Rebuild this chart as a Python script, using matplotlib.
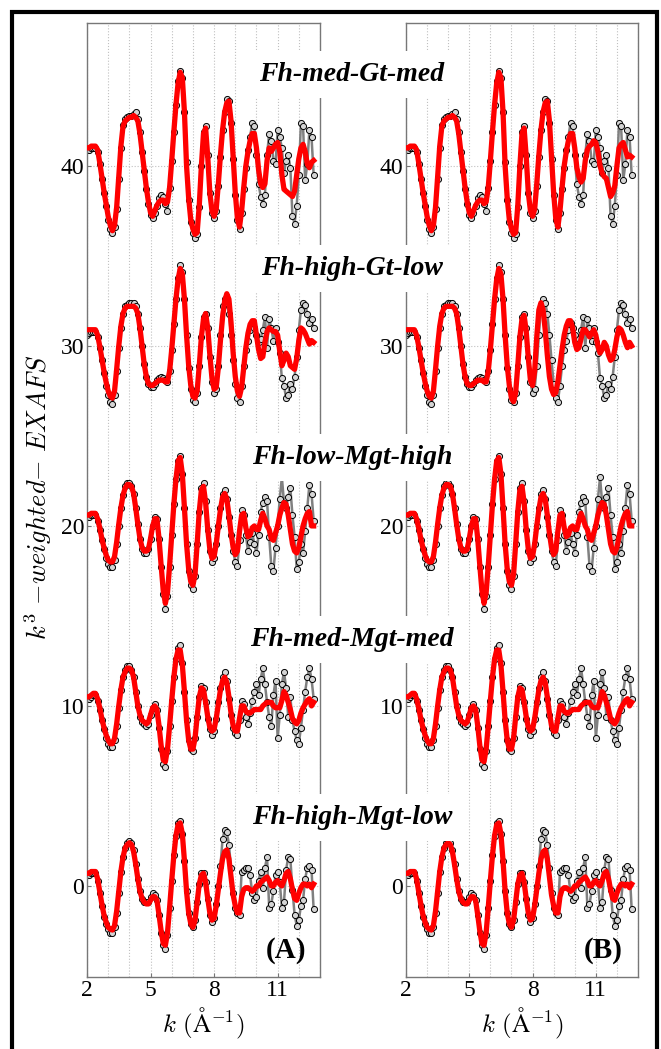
import numpy as np
import matplotlib.pyplot as plt
from matplotlib.patches import Rectangle
from matplotlib.ticker import MultipleLocator

plt.rcParams['font.family'] = ['Liberation Serif', 'DejaVu Serif']
plt.rcParams['mathtext.fontset'] = 'cm'

# k grid (1/Angstrom), step 0.1
k = np.round(np.arange(20, 128) / 10.0, 1)

names = ['Fh-med-Gt-med', 'Fh-high-Gt-low', 'Fh-low-Mgt-high',
         'Fh-med-Mgt-med', 'Fh-high-Mgt-low']

# measured k3-weighted EXAFS (already offset by 40, 30, 20, 10, 0)
data_gt_med = [40.9, 40.9, 41.0, 41.0, 41.0, 40.8, 40.1, 39.3, 38.5, 37.8,
               37.0, 36.5, 36.3, 36.6, 37.6, 39.3, 41.0, 42.3, 42.6, 42.7,
               42.8, 42.8, 42.9, 43.0, 42.6, 41.9, 40.8, 39.7, 38.7, 37.9,
               37.3, 37.1, 37.4, 37.8, 38.2, 38.4, 38.3, 37.9, 37.5, 38.8,
               40.3, 41.9, 43.4, 44.7, 45.3, 44.9, 43.0, 40.2, 38.1, 36.9,
               36.3, 36.0, 36.2, 37.7, 40.0, 41.9, 42.2, 40.6, 38.5, 37.4,
               37.1, 37.5, 38.9, 40.5, 42.0, 43.0, 43.7, 43.6, 42.4, 40.4,
               38.4, 37.0, 36.5, 37.4, 38.7, 39.9, 40.9, 41.6, 42.4, 42.2,
               40.6, 39.0, 38.3, 37.9, 38.4, 40.6, 41.8, 41.4, 40.3, 40.1,
               42.0, 41.6, 41.0, 39.6, 40.3, 40.6, 39.9, 37.2, 36.8, 37.8,
               39.5, 42.4, 42.2, 39.2, 40.1, 42.0, 41.6, 39.5]
data_gt_low = [30.6, 30.7, 30.8, 30.8, 30.8, 30.5, 29.9, 29.2, 28.5, 27.8,
               27.3, 26.9, 26.8, 27.3, 28.6, 29.9, 31.0, 31.8, 32.2, 32.3,
               32.4, 32.4, 32.4, 32.2, 31.8, 31.0, 30.0, 29.0, 28.3, 27.9,
               27.7, 27.7, 27.9, 28.1, 28.2, 28.3, 28.2, 28.1, 28.0, 28.6,
               29.8, 31.2, 32.6, 33.8, 34.5, 34.1, 32.6, 30.6, 28.8, 27.6,
               27.0, 26.9, 27.4, 28.9, 30.5, 31.6, 31.8, 31.0, 29.4, 28.0,
               27.4, 27.6, 28.9, 30.6, 32.2, 32.6, 32.4, 31.8, 30.6, 29.2,
               27.9, 27.1, 26.9, 27.8, 28.9, 29.8, 30.3, 30.9, 31.3, 31.0,
               30.6, 30.2, 30.4, 30.9, 31.6, 29.9, 31.5, 31.0, 30.3, 31.0,
               30.2, 29.6, 28.2, 27.8, 27.1, 27.3, 27.9, 27.6, 28.3, 29.4,
               30.9, 32.0, 32.4, 32.3, 31.8, 31.3, 31.5, 31.0]
data_mgt_high = [20.5, 20.5, 20.6, 20.6, 20.6, 20.3, 19.8, 19.2, 18.7, 18.2,
                 17.9, 17.7, 17.7, 18.1, 19.0, 20.0, 21.0, 21.7, 22.2, 22.4,
                 22.4, 22.2, 21.8, 21.0, 20.1, 19.3, 18.7, 18.5, 18.5, 18.7,
                 19.3, 20.0, 20.5, 20.4, 19.3, 17.7, 16.2, 15.4, 16.1, 17.7,
                 19.5, 21.2, 22.6, 23.6, 23.9, 22.9, 21.0, 19.0, 17.5, 16.7,
                 16.5, 17.2, 19.0, 20.8, 22.1, 22.4, 21.4, 19.8, 18.6, 18.0,
                 18.2, 19.0, 20.0, 21.0, 21.8, 22.0, 21.5, 20.5, 19.5, 18.6,
                 18.0, 17.8, 19.2, 20.9, 20.6, 19.5, 18.6, 19.1, 19.6, 19.0,
                 18.5, 19.5, 20.8, 21.3, 21.6, 21.4, 19.4, 17.8, 17.5, 18.8,
                 20.0, 21.5, 22.7, 21.3, 21.0, 21.6, 22.1, 20.6, 19.4, 17.6,
                 18.0, 19.0, 18.5, 19.7, 21.0, 22.3, 21.8, 20.3]
data_mgt_med = [10.4, 10.4, 10.5, 10.6, 10.6, 10.3, 9.8, 9.2, 8.7, 8.2,
                7.9, 7.7, 7.7, 8.1, 8.9, 9.9, 10.9, 11.6, 12.0, 12.2,
                12.2, 12.0, 11.6, 10.8, 10.0, 9.4, 9.1, 9.0, 8.9, 9.0,
                9.5, 9.9, 10.1, 9.8, 8.8, 7.6, 6.8, 6.6, 7.5, 8.9,
                10.3, 11.6, 12.6, 13.2, 13.4, 12.4, 10.8, 9.2, 8.1, 7.6,
                7.5, 8.2, 9.4, 10.5, 11.1, 11.0, 10.2, 9.3, 8.7, 8.4,
                8.6, 9.3, 10.2, 11.0, 11.6, 11.9, 11.4, 10.4, 9.5, 8.8,
                8.5, 8.4, 9.2, 10.3, 10.1, 9.4, 9.0, 9.6, 10.3, 10.8,
                11.2, 10.6, 11.5, 12.1, 11.2, 10.2, 9.4, 8.9, 10.6, 11.4,
                8.2, 9.5, 11.2, 11.9, 11.0, 9.4, 10.5, 9.2, 8.6, 8.1,
                7.9, 8.8, 9.8, 10.8, 11.6, 12.1, 11.5, 10.4]
data_mgt_low = [0.6, 0.6, 0.7, 0.7, 0.7, 0.3, -0.4, -1.1, -1.7, -2.1,
                -2.4, -2.6, -2.6, -2.3, -1.5, -0.4, 0.8, 1.6, 2.1, 2.4,
                2.5, 2.4, 2.0, 1.2, 0.4, -0.3, -0.7, -0.9, -0.9, -0.9,
                -0.6, -0.4, -0.5, -0.8, -1.6, -2.6, -3.3, -3.5, -2.7, -1.2,
                0.3, 1.7, 2.8, 3.5, 3.6, 2.9, 1.4, -0.3, -1.5, -2.1,
                -2.3, -1.9, -0.9, 0.1, 0.7, 0.7, 0.2, -0.7, -1.6, -2.0,
                -1.8, -1.0, 0.0, 1.1, 2.6, 3.1, 3.0, 2.3, 1.0, -0.4,
                -1.2, -1.5, -1.6, 0.8, 0.9, 1.0, 1.0, 0.6, -0.4, -0.8,
                -0.6, 0.3, 0.8, -0.1, 1.0, 1.6, -1.2, -1.0, -0.3, 0.6,
                0.8, 0.2, -1.2, -0.9, 0.9, 1.6, 1.5, -0.2, -1.6, -2.2,
                -1.9, -1.1, -0.8, 0.4, 1.0, 1.1, 0.9, -1.3]

# fits, panel (A)
fitA_gt_med = [41.0, 41.0, 41.1, 41.1, 41.1, 40.9, 40.2, 39.4, 38.6, 37.9,
               37.2, 36.7, 36.4, 36.7, 37.7, 39.4, 41.1, 42.2, 42.5, 42.6,
               42.7, 42.7, 42.8, 42.7, 42.5, 41.8, 40.8, 39.8, 38.8, 38.0,
               37.4, 37.2, 37.5, 37.8, 38.0, 38.1, 38.1, 37.9, 38.0, 38.8,
               40.3, 41.9, 43.4, 44.6, 45.2, 44.9, 43.0, 40.0, 38.2, 37.0,
               36.5, 36.2, 36.3, 37.8, 40.0, 41.8, 42.1, 40.5, 38.5, 37.5,
               37.2, 37.6, 39.0, 40.6, 42.0, 43.0, 43.5, 43.6, 42.5, 40.5,
               38.5, 37.1, 36.6, 37.5, 38.8, 40.0, 40.8, 41.4, 41.8, 41.8,
               41.0, 39.8, 39.0, 38.8, 39.0, 40.3, 41.0, 40.8, 41.0, 41.2,
               41.3, 40.8, 39.5, 38.7, 38.6, 38.5, 38.4, 38.3, 38.6, 39.5,
               40.4, 41.0, 41.2, 40.8, 40.1, 39.9, 40.2, 40.3]
fitA_gt_low = [30.9, 30.9, 30.9, 30.9, 30.9, 30.6, 30.0, 29.3, 28.6, 28.0,
               27.5, 27.2, 27.1, 27.5, 28.7, 30.0, 31.1, 31.8, 32.1, 32.2,
               32.2, 32.2, 32.2, 32.1, 31.8, 31.0, 30.0, 29.0, 28.3, 27.9,
               27.8, 27.8, 27.9, 28.0, 28.1, 28.1, 28.1, 28.0, 28.0, 28.6,
               29.8, 31.2, 32.6, 33.7, 34.3, 34.0, 32.6, 30.6, 28.9, 27.8,
               27.2, 27.1, 27.5, 28.9, 30.5, 31.5, 31.8, 31.0, 29.5, 28.2,
               27.6, 27.7, 28.8, 30.3, 31.6, 32.5, 32.9, 32.6, 31.3, 29.6,
               28.3, 27.5, 27.2, 27.7, 28.8, 29.9, 30.7, 31.2, 31.4, 31.4,
               30.6, 29.8, 29.3, 29.4, 30.2, 30.8, 31.0, 30.9, 30.8, 30.8,
               30.6, 29.7, 28.9, 29.2, 29.6, 29.4, 28.9, 28.8, 28.7, 29.3,
               30.3, 31.0, 30.9, 30.7, 30.4, 30.1, 30.3, 30.2]
fitA_mgt_high = [20.6, 20.6, 20.7, 20.7, 20.7, 20.4, 19.9, 19.3, 18.8, 18.4,
                 18.1, 18.0, 18.0, 18.3, 19.1, 20.1, 21.0, 21.7, 22.1, 22.3,
                 22.3, 22.2, 21.8, 21.0, 20.1, 19.3, 18.8, 18.6, 18.6, 18.7,
                 19.3, 20.0, 20.4, 20.4, 19.3, 17.8, 16.4, 15.7, 16.3, 17.8,
                 19.5, 21.2, 22.6, 23.6, 23.8, 22.9, 21.0, 19.0, 17.6, 16.9,
                 16.7, 17.3, 19.0, 20.8, 22.0, 22.2, 21.3, 19.8, 18.7, 18.2,
                 18.3, 19.0, 20.0, 20.9, 21.6, 21.8, 21.5, 20.6, 19.6, 18.8,
                 18.4, 18.6, 19.7, 20.6, 20.7, 19.9, 19.4, 19.5, 19.9, 20.0,
                 19.8, 19.8, 20.3, 20.7, 20.4, 20.0, 19.8, 19.3, 19.2, 19.6,
                 20.0, 20.6, 21.0, 21.3, 21.2, 20.6, 19.8, 19.0, 18.6, 18.5,
                 18.8, 19.4, 20.0, 20.4, 20.7, 20.8, 20.0, 20.0]
fitA_mgt_med = [10.5, 10.5, 10.6, 10.7, 10.7, 10.4, 9.9, 9.3, 8.8, 8.4,
                8.1, 7.9, 7.9, 8.2, 9.0, 10.0, 10.9, 11.6, 11.9, 12.1,
                12.1, 12.0, 11.6, 10.8, 10.0, 9.5, 9.2, 9.1, 9.0, 9.1,
                9.5, 9.9, 10.0, 9.8, 8.9, 7.8, 7.0, 6.9, 7.6, 8.9,
                10.3, 11.6, 12.6, 13.1, 13.1, 12.3, 10.8, 9.2, 8.1, 7.6,
                7.6, 8.2, 9.4, 10.5, 11.0, 10.9, 10.2, 9.4, 8.8, 8.6,
                8.7, 9.3, 10.1, 10.9, 11.4, 11.6, 11.3, 10.5, 9.6, 8.9,
                8.6, 8.6, 9.3, 10.0, 10.0, 9.7, 9.6, 9.6, 9.7, 9.8,
                9.8, 9.8, 9.8, 10.0, 10.1, 10.2, 10.2, 10.2, 10.0, 9.9,
                9.9, 9.9, 10.3, 10.8, 10.6, 10.2, 9.8, 9.3, 9.1, 9.0,
                9.2, 9.6, 9.9, 10.1, 10.3, 10.4, 10.0, 10.2]
fitA_mgt_low = [0.7, 0.7, 0.8, 0.8, 0.8, 0.4, -0.3, -1.0, -1.6, -2.0,
                -2.3, -2.4, -2.45, -2.2, -1.4, -0.3, 0.8, 1.6, 2.1, 2.3,
                2.4, 2.3, 1.9, 1.2, 0.4, -0.3, -0.7, -0.9, -1.0, -1.0,
                -0.8, -0.6, -0.6, -0.8, -1.6, -2.5, -3.2, -3.3, -2.6, -1.2,
                0.3, 1.7, 2.8, 3.4, 3.5, 2.9, 1.4, -0.3, -1.5, -2.1,
                -2.3, -1.9, -0.9, 0.1, 0.6, 0.7, 0.2, -0.7, -1.5, -1.9,
                -1.8, -1.1, -0.2, 0.7, 1.5, 1.9, 2.0, 1.5, 0.5, -0.5,
                -1.1, -1.5, -1.5, -0.6, -0.2, -0.1, -0.1, -0.2, -0.3, -0.2,
                0.0, 0.0, 0.2, 0.3, 0.4, 0.5, 0.3, 0.0, 0.0, 0.2,
                0.3, 0.1, 0.0, 0.3, 0.7, 0.8, 0.4, -0.2, -0.7, -0.8,
                -0.4, -0.1, 0.1, 0.1, 0.0, 0.1, -0.1, 0.1]

# fits, panel (B)
fitB_gt_med = [41.0, 41.0, 41.1, 41.1, 41.1, 40.9, 40.2, 39.4, 38.6, 37.9,
               37.2, 36.7, 36.4, 36.7, 37.7, 39.4, 41.1, 42.2, 42.5, 42.6,
               42.7, 42.7, 42.8, 42.7, 42.5, 41.8, 40.8, 39.8, 38.8, 38.0,
               37.4, 37.2, 37.5, 37.8, 38.0, 38.1, 38.1, 37.9, 38.0, 38.8,
               40.3, 41.9, 43.4, 44.6, 45.2, 44.9, 43.0, 40.0, 38.2, 37.0,
               36.5, 36.2, 36.3, 37.8, 40.0, 41.8, 42.1, 40.5, 38.5, 37.5,
               37.2, 37.6, 39.0, 40.6, 42.0, 43.0, 43.5, 43.6, 42.5, 40.5,
               38.5, 37.1, 36.6, 37.5, 38.8, 40.0, 40.8, 41.4, 41.8, 41.8,
               41.0, 39.9, 39.4, 39.1, 39.3, 40.3, 40.9, 41.1, 41.2, 41.4,
               41.3, 40.8, 40.0, 39.6, 39.4, 39.3, 38.8, 38.3, 38.5, 38.9,
               40.0, 41.0, 41.2, 41.3, 40.9, 40.5, 40.6, 40.5]
fitB_gt_low = [30.9, 30.9, 30.9, 30.9, 30.9, 30.6, 30.0, 29.3, 28.6, 28.0,
               27.5, 27.2, 27.1, 27.5, 28.7, 30.0, 31.1, 31.8, 32.1, 32.2,
               32.2, 32.2, 32.2, 32.1, 31.8, 31.0, 30.0, 29.0, 28.3, 27.9,
               27.8, 27.8, 27.9, 28.0, 28.1, 28.1, 28.1, 28.0, 28.0, 28.6,
               29.8, 31.2, 32.6, 33.7, 34.3, 34.0, 32.6, 30.6, 28.9, 27.8,
               27.1, 26.9, 27.4, 28.9, 30.5, 31.5, 31.7, 30.8, 29.3, 28.1,
               27.8, 28.6, 30.5, 32.0, 32.4, 32.0, 30.9, 29.5, 28.3, 27.6,
               27.3, 27.4, 28.0, 28.9, 29.8, 30.6, 31.1, 31.4, 31.4, 31.0,
               30.2, 29.8, 29.9, 30.4, 30.9, 30.9, 30.7, 30.5, 30.7, 30.9,
               30.6, 30.0, 29.6, 29.8, 30.2, 30.0, 29.5, 29.2, 29.3, 29.8,
               30.5, 31.0, 30.9, 30.6, 30.2, 29.9, 30.2, 30.0]
fitB_mgt_high = fitA_mgt_high
fitB_mgt_med = fitA_mgt_med
fitB_mgt_low = fitA_mgt_low

data = [data_gt_med, data_gt_low, data_mgt_high, data_mgt_med, data_mgt_low]
fits_A = [fitA_gt_med, fitA_gt_low, fitA_mgt_high, fitA_mgt_med, fitA_mgt_low]
fits_B = [fitB_gt_med, fitB_gt_low, fitB_mgt_high, fitB_mgt_med, fitB_mgt_low]
label_y = [45.1, 34.3, 23.8, 13.7, 3.8]

W, H = 661, 1049
fig = plt.figure(figsize=(W / 100, H / 100), dpi=100)
axA = fig.add_axes([87 / W, 72 / H, 233 / W, 954 / H])
axB = fig.add_axes([406 / W, 72 / H, 232 / W, 954 / H])

for ax, fits, tag, tx in [(axA, fits_A, '(A)', 286), (axB, fits_B, '(B)', 603)]:
    for d, f in zip(data, fits):
        ax.plot(k, d, '-o', color='#808080', lw=1.8, ms=4.4, mfc='#d4d4d4',
                mec='black', mew=0.7, zorder=2)
        ax.plot(k, f, '-', color='#ff0000', lw=3.8, zorder=3)
    ax.set_xlim(2, 13)
    ax.set_ylim(-5.06, 47.94)
    ax.set_xticks([2, 5, 8, 11])
    ax.set_yticks([0, 10, 20, 30, 40])
    ax.xaxis.set_minor_locator(MultipleLocator(1))
    ax.grid(axis='x', which='both', ls=':', color='#c0c0c0', lw=0.8)
    ax.grid(axis='y', which='major', ls=':', color='#c0c0c0', lw=0.8)
    ax.tick_params(which='minor', length=0)
    ax.tick_params(which='major', direction='in', length=3, color='#777777',
                   labelsize=17, pad=2)
    for s in ax.spines.values():
        s.set_color('#777777')
        s.set_linewidth(1.0)
    ax.set_xlabel(r'$k\ (\mathrm{\AA}^{-1})$', fontsize=18, labelpad=4)
    fig.text(tx / W, 1 - 950 / H, tag, fontsize=21, fontweight='bold',
             ha='center', va='center')

fig.text(38 / W, 1 - 497 / H, r'$k^3\ {-}weighted{-}\ EXAFS$', fontsize=19,
         rotation=90, ha='center', va='center')

# sample names sit in white boxes over the gap between the panels
for name, yv in zip(names, label_y):
    ypix = 886 - yv * 18
    fig.text(352 / W, 1 - ypix / H, name, fontsize=20, fontweight='bold',
             fontstyle='italic', ha='center', va='center', zorder=5,
             bbox=dict(boxstyle='square,pad=0.4', fc='white', ec='none'))

fig.add_artist(Rectangle((12 / W, -0.02), 645 / W, 1.02 - 12 / H,
                         transform=fig.transFigure, fill=False,
                         ec='black', lw=3))

fig.savefig('out.png', dpi=100)
